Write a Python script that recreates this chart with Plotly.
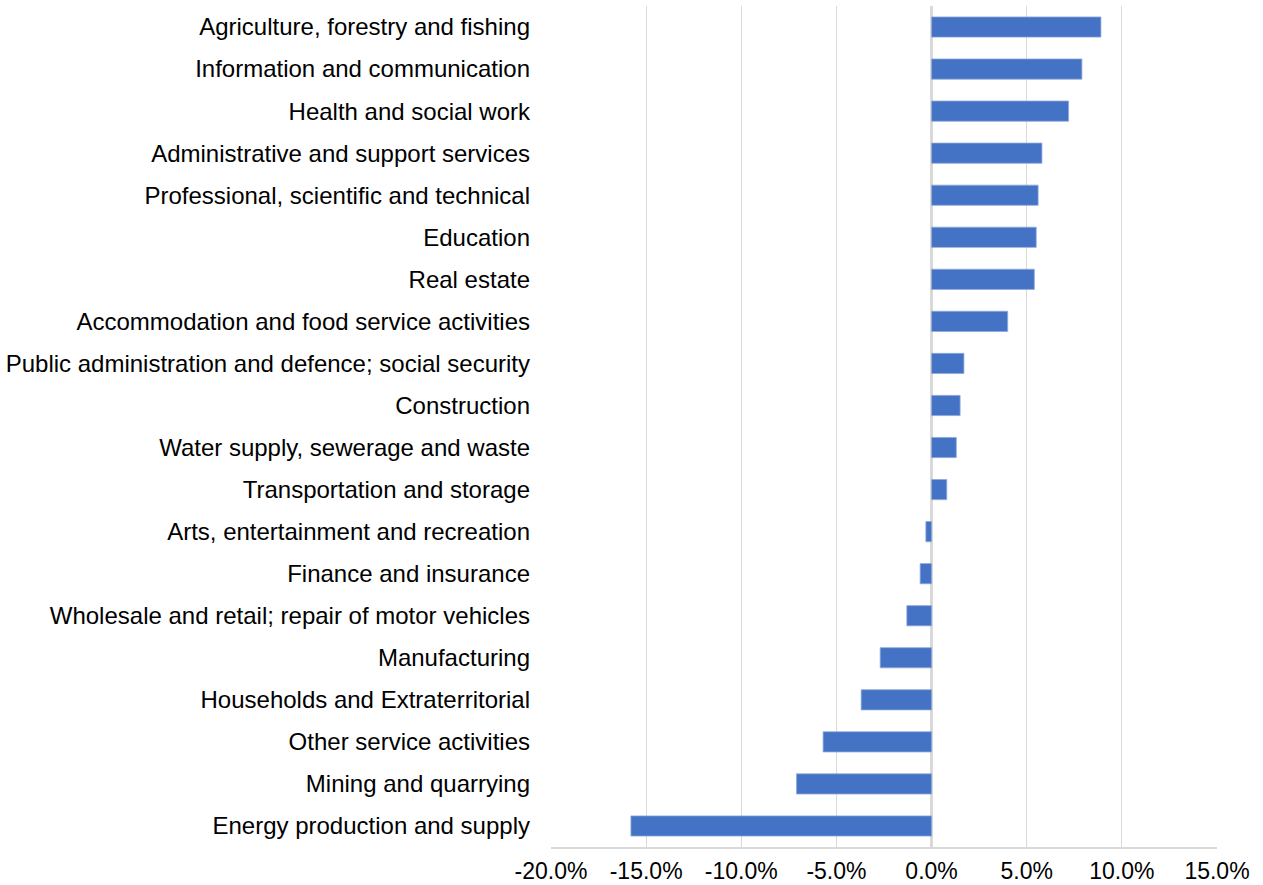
import plotly.graph_objects as go

categories = [
    "Agriculture, forestry and fishing",
    "Information and communication",
    "Health and social work",
    "Administrative and support services",
    "Professional, scientific and technical",
    "Education",
    "Real estate",
    "Accommodation and food service activities",
    "Public administration and defence; social security",
    "Construction",
    "Water supply, sewerage and waste",
    "Transportation and storage",
    "Arts, entertainment and recreation",
    "Finance and insurance",
    "Wholesale and retail; repair of motor vehicles",
    "Manufacturing",
    "Households and Extraterritorial",
    "Other service activities",
    "Mining and quarrying",
    "Energy production and supply",
]
values = [0.089, 0.079, 0.072, 0.058, 0.056, 0.055, 0.054, 0.040, 0.017, 0.015,
          0.013, 0.008, -0.003, -0.006, -0.013, -0.027, -0.037, -0.057, -0.071, -0.158]

tick_values = [-0.20, -0.15, -0.10, -0.05, 0.0, 0.05, 0.10, 0.15]
tick_labels = ["-20.0%", "-15.0%", "-10.0%", "-5.0%", "0.0%", "5.0%", "10.0%", "15.0%"]

fig = go.Figure(go.Bar(
    x=values,
    y=categories,
    orientation="h",
    width=0.48,
    marker=dict(color="#4472C4", line=dict(color="#8FAADC", width=0.8)),
))

fig.update_layout(
    width=1263, height=885,
    margin=dict(l=551, r=46, t=6, b=38),
    paper_bgcolor="white", plot_bgcolor="white",
    font=dict(family="Liberation Sans, Arial, sans-serif", size=24, color="#000000"),
    showlegend=False,
)
fig.update_xaxes(
    range=[-0.20, 0.15],
    tickvals=tick_values,
    ticktext=tick_labels,
    showgrid=True, gridcolor="#D9D9D9", gridwidth=1,
    zeroline=True, zerolinecolor="#D9D9D9", zerolinewidth=3,
    showline=True, linecolor="#D9D9D9", linewidth=2,
    ticks="", ticklabelstandoff=2,
    tickfont=dict(size=23),
    automargin=False,
)
fig.update_yaxes(
    autorange="reversed",
    showgrid=False, zeroline=False, showline=False,
    ticks="", ticklabelstandoff=20,
    tickfont=dict(size=24),
    automargin=False,
)

fig.write_html("out.html", config={"displayModeBar": False},
               post_script="document.body.style.margin='0px';")
